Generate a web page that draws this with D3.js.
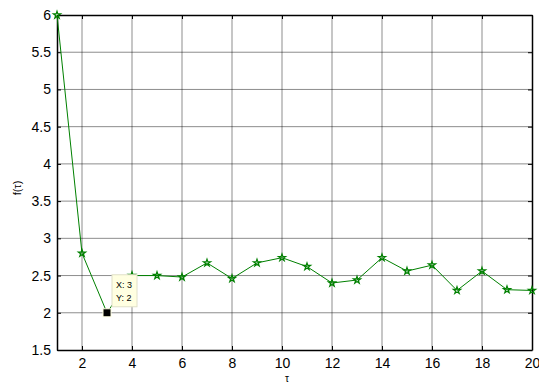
<!DOCTYPE html>
<html>
    <head>
        <meta charset="UTF-8">
        <title>f(τ)</title>
        <script src="https://d3js.org/d3.v7.min.js"></script>
        <style>
            body { margin: 0; background: #fff; }
            text { font-family: Arial, "Liberation Sans", sans-serif; }
        </style>
    </head>
    <body>
        <script>
            // values
            var tau = [1, 2, 3, 4, 5, 6, 7, 8, 9, 10, 11, 12, 13, 14, 15, 16, 17, 18, 19, 20];
            var fTau = [6, 2.8, 2, 2.5, 2.5, 2.48, 2.67, 2.46, 2.67, 2.74, 2.62, 2.4, 2.44, 2.74, 2.56, 2.64, 2.3, 2.56, 2.31, 2.3];
            var xTicks = [2, 4, 6, 8, 10, 12, 14, 16, 18, 20];
            var yTicks = [1.5, 2, 2.5, 3, 3.5, 4, 4.5, 5, 5.5, 6];
            var tipPoint = {x: 3, y: 2};

            var W = 539, H = 383;
            var pLeft = 57, pTop = 15, pRight = 532, pBottom = 350;

            var svg = d3.select("body").append("svg")
                .attr("width", W)
                .attr("height", H);

            var x = d3.scaleLinear().domain([1, 20]).range([pLeft, pRight]);
            var y = d3.scaleLinear().domain([1.5, 6]).range([pBottom, pTop]);

            // grid
            var grid = svg.append("g").attr("class", "grid");
            grid.selectAll("line.gx").data(xTicks.filter(function(d){ return d < 20; }))
                .enter().append("line")
                .attr("x1", function(d){ return x(d); })
                .attr("x2", function(d){ return x(d); })
                .attr("y1", pTop).attr("y2", pBottom)
                .attr("stroke", "#000").attr("stroke-opacity", 0.45).attr("stroke-width", 1);
            grid.selectAll("line.gy").data(yTicks.filter(function(d){ return d > 1.5 && d < 6; }))
                .enter().append("line")
                .attr("y1", function(d){ return y(d); })
                .attr("y2", function(d){ return y(d); })
                .attr("x1", pLeft).attr("x2", pRight)
                .attr("stroke", "#000").attr("stroke-opacity", 0.45).attr("stroke-width", 1);

            // axes, ticks inside
            var xAxis = d3.axisBottom(x).tickValues(xTicks).tickSizeInner(-4).tickSizeOuter(0).tickPadding(10);
            var yAxis = d3.axisLeft(y).tickValues(yTicks).tickSizeInner(-4).tickSizeOuter(0).tickPadding(6)
                .tickFormat(d3.format("~g"));
            var xTop = d3.axisTop(x).tickValues(xTicks).tickSizeInner(-4).tickSizeOuter(0).tickFormat("");
            var yRight = d3.axisRight(y).tickValues(yTicks).tickSizeInner(-4).tickSizeOuter(0).tickFormat("");

            var gx = svg.append("g").attr("transform", "translate(0," + pBottom + ")").call(xAxis);
            var gy = svg.append("g").attr("transform", "translate(" + pLeft + ",0)").call(yAxis);
            var gt = svg.append("g").attr("transform", "translate(0," + pTop + ")").call(xTop);
            var gr = svg.append("g").attr("transform", "translate(" + pRight + ",0)").call(yRight);

            [gx, gy, gt, gr].forEach(function(g){
                g.selectAll("text").attr("font-size", 14).attr("fill", "#000")
                    .attr("font-family", "Arial, 'Liberation Sans', sans-serif");
                g.selectAll("line").attr("stroke", "#000");
                g.select(".domain").attr("stroke", "#000").attr("stroke-width", 1.5);
            });
            gx.selectAll("text").attr("dy", "0.55em");

            // axis labels
            svg.append("text")
                .attr("transform", "translate(21,188) rotate(-90)")
                .attr("text-anchor", "middle")
                .attr("font-size", 11)
                .text("f(τ)");
            svg.append("text")
                .attr("x", 287).attr("y", 382)
                .attr("text-anchor", "middle")
                .attr("font-size", 10)
                .text("τ");

            // series
            var pts = tau.map(function(t, i){ return [t, fTau[i]]; });
            var line = d3.line().x(function(d){ return x(d[0]); }).y(function(d){ return y(d[1]); });
            svg.append("path")
                .datum(pts)
                .attr("d", line)
                .attr("fill", "none")
                .attr("stroke", "#008000")
                .attr("stroke-width", 1);

            var star = d3.symbol().type(d3.symbolStar).size(16);
            svg.selectAll("path.mk").data(pts.filter(function(d){ return d[0] !== tipPoint.x; }))
                .enter().append("path")
                .attr("class", "mk")
                .attr("d", star)
                .attr("transform", function(d){ return "translate(" + x(d[0]) + "," + y(d[1]) + ")"; })
                .attr("fill", "none")
                .attr("stroke", "#008000")
                .attr("stroke-width", 1.2);

            // data tip
            svg.append("rect")
                .attr("x", x(tipPoint.x) - 4).attr("y", y(tipPoint.y) - 4)
                .attr("width", 8).attr("height", 8)
                .attr("fill", "#000")
                .attr("stroke", "#ffffe1").attr("stroke-width", 1);
            var tip = svg.append("g").attr("transform", "translate(" + (x(tipPoint.x) + 5) + "," + (y(tipPoint.y) - 38) + ")");
            tip.append("rect")
                .attr("width", 25).attr("height", 32)
                .attr("fill", "#ffffe1")
                .attr("stroke", "#e0e0c8");
            tip.append("text").attr("x", 4).attr("y", 13).attr("font-size", 9).text("X: " + tipPoint.x);
            tip.append("text").attr("x", 4).attr("y", 26).attr("font-size", 9).text("Y: " + tipPoint.y);
        </script>
    </body>
</html>
